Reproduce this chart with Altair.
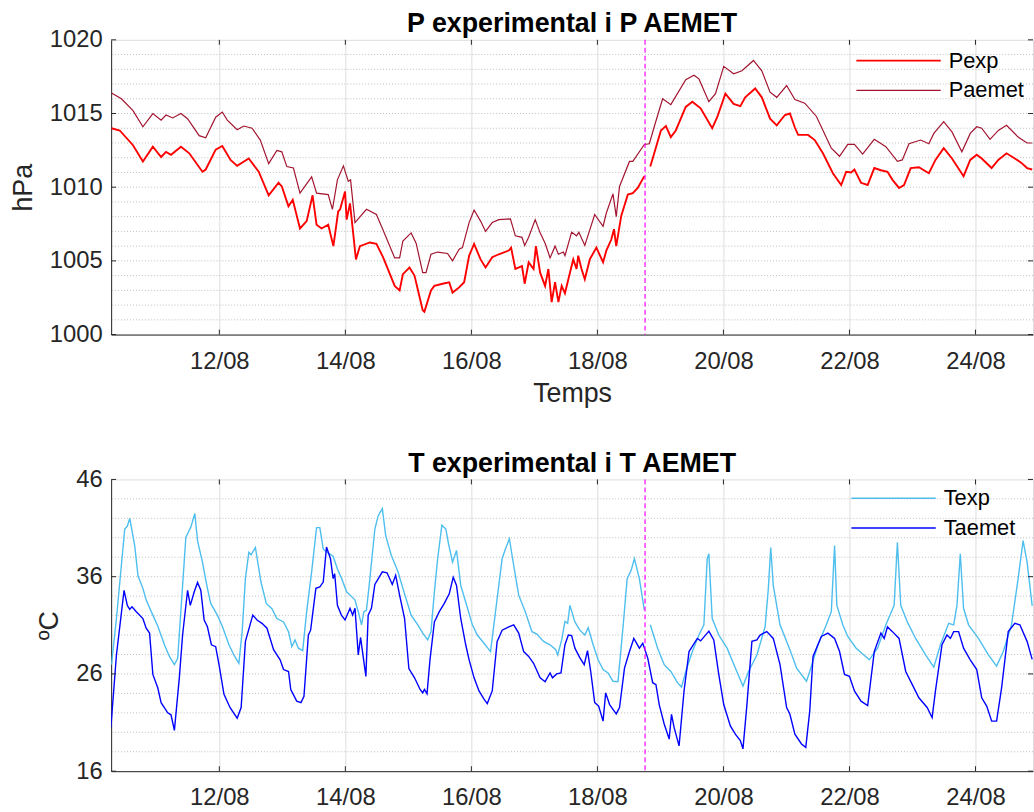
import altair as alt
import pandas as pd

BASE = pd.Timestamp("2021-08-10 00:00:00")

# ---- Pressure (time in days since 10/08 00:00) ----
paemet_t = [0.288, 0.446, 0.63, 0.787, 0.945, 1.076, 1.154, 1.26, 1.391, 1.496, 1.68, 1.784, 1.942, 2.047,
            2.126, 2.283, 2.389, 2.52, 2.65, 2.783, 2.913, 2.992, 3.071, 3.176, 3.28, 3.465, 3.543, 3.728,
            3.795, 3.874, 3.969, 4.047, 4.083, 4.153, 4.335, 4.493, 4.598, 4.783, 4.861, 4.913, 5.044, 5.123,
            5.228, 5.28, 5.359, 5.465, 5.622, 5.701, 5.806, 5.858, 5.964, 6.043, 6.146, 6.225, 6.331, 6.436,
            6.619, 6.698, 6.803, 6.846, 6.909, 7.013, 7.091, 7.17, 7.249, 7.328, 7.381, 7.46, 7.485, 7.591,
            7.669, 7.706, 7.8, 7.957, 8.09, 8.142, 8.247, 8.299, 8.351, 8.509, 8.562, 8.745, 8.824, 8.902,
            9.035, 9.165, 9.402, 9.532, 9.611, 9.769, 9.874, 10.005, 10.162, 10.294, 10.477, 10.609, 10.74,
            10.846, 11.003, 11.134, 11.291, 11.476, 11.712, 11.843, 11.973, 12.079, 12.209, 12.394, 12.578,
            12.761, 12.839, 12.945, 13.129, 13.26, 13.339, 13.496, 13.627, 13.784, 13.917, 14.02, 14.099,
            14.231, 14.362, 14.493, 14.677, 14.729, 14.819, 14.9]
paemet_v = [1016.4, 1016.0, 1015.2, 1014.1, 1015.0, 1014.55, 1014.9, 1014.7, 1015.0, 1014.65, 1013.5, 1013.35,
            1014.75, 1015.1, 1014.55, 1013.9, 1014.15, 1014.0, 1013.2, 1011.6, 1012.5, 1012.4, 1011.4, 1011.3,
            1009.6, 1010.7, 1009.6, 1009.5, 1008.5, 1010.5, 1011.45, 1010.4, 1010.5, 1007.6, 1008.5, 1008.15,
            1007.1, 1005.2, 1005.2, 1006.35, 1006.9, 1006.2, 1004.2, 1004.2, 1005.45, 1005.6, 1005.5, 1005.0,
            1005.8, 1005.9, 1007.6, 1008.45, 1007.7, 1007.0, 1007.6, 1007.8, 1007.85, 1006.7, 1006.6, 1006.05,
            1006.6, 1007.8, 1006.9, 1006.2, 1005.2, 1006.0, 1005.45, 1005.6, 1005.35, 1006.95, 1006.7, 1006.95,
            1006.05, 1008.15, 1007.35, 1008.25, 1009.55, 1008.0, 1010.05, 1011.75, 1011.75, 1012.9, 1012.95,
            1014.1, 1016.0, 1015.6, 1017.3, 1017.6, 1017.35, 1015.8, 1016.35, 1018.2, 1017.7, 1017.9, 1018.6,
            1017.9, 1016.45, 1016.1, 1016.9, 1015.95, 1015.7, 1014.8, 1012.65, 1012.1, 1012.9, 1012.9, 1012.25,
            1013.25, 1012.75, 1011.75, 1011.85, 1012.95, 1013.2, 1012.95, 1013.65, 1014.45, 1013.75, 1012.4,
            1013.65, 1014.1, 1014.0, 1013.25, 1013.85, 1014.2, 1013.4, 1013.25, 1013.0, 1013.0]

pexp_t = [0.288, 0.42, 0.63, 0.787, 0.945, 1.076, 1.154, 1.233, 1.391, 1.523, 1.732, 1.784, 1.942, 2.047,
          2.178, 2.283, 2.467, 2.625, 2.783, 2.94, 2.992, 3.097, 3.165, 3.28, 3.386, 3.48, 3.543, 3.622,
          3.728, 3.81, 3.886, 3.917, 3.995, 4.02, 4.074, 4.168, 4.231, 4.389, 4.493, 4.598, 4.783, 4.861,
          4.913, 5.018, 5.097, 5.228, 5.254, 5.359, 5.412, 5.543, 5.648, 5.701, 5.806, 5.885, 5.964, 6.043,
          6.146, 6.225, 6.331, 6.436, 6.593, 6.63, 6.698, 6.803, 6.846, 6.909, 6.987, 7.024, 7.091, 7.17,
          7.222, 7.274, 7.328, 7.381, 7.433, 7.485, 7.564, 7.617, 7.669, 7.696, 7.748, 7.8, 7.879, 7.984,
          8.09, 8.142, 8.22, 8.263, 8.299, 8.378, 8.483, 8.562, 8.64, 8.745,
          8.839, 8.902, 9.008, 9.087, 9.165, 9.244, 9.402, 9.507, 9.638, 9.822, 9.901, 10.031, 10.162,
          10.268, 10.346, 10.504, 10.609, 10.74, 10.846, 10.976, 11.055, 11.134, 11.186, 11.343, 11.449,
          11.579, 11.737, 11.869, 11.948, 12.026, 12.079, 12.184, 12.289, 12.394, 12.499, 12.604, 12.683,
          12.787, 12.866, 12.972, 13.102, 13.26, 13.365, 13.496, 13.627, 13.811, 13.917, 14.02, 14.099,
          14.256, 14.362, 14.493, 14.625, 14.729, 14.819, 14.9]
pexp_v = [1014.0, 1013.85, 1012.85, 1011.75, 1012.75, 1012.05, 1012.4, 1012.2, 1012.75, 1012.3, 1011.05,
          1011.2, 1012.55, 1012.8, 1011.85, 1011.45, 1011.95, 1011.05, 1009.45, 1010.3, 1010.05, 1008.7,
          1009.15, 1007.2, 1007.7, 1009.45, 1007.45, 1007.2, 1007.45, 1006.0, 1008.35, 1008.5, 1009.7,
          1007.8, 1008.9, 1005.1, 1006.0, 1006.25, 1006.15, 1005.25, 1003.3, 1003.0, 1004.1, 1004.55, 1004.0,
          1001.65, 1001.55, 1003.0, 1003.3, 1003.45, 1003.55, 1002.85, 1003.2, 1003.55, 1005.35, 1006.15,
          1005.1, 1004.55, 1005.25, 1005.45, 1005.7, 1005.9, 1004.45, 1004.65, 1003.45, 1004.9, 1004.45,
          1006.0, 1004.2, 1003.3, 1004.45, 1002.2, 1003.55, 1002.2, 1003.3, 1002.8, 1004.2, 1005.1, 1004.45,
          1005.35, 1004.45, 1003.75, 1005.1, 1005.9, 1004.9, 1005.7, 1006.45, 1007.15, 1006.0, 1008.05,
          1009.5, 1009.6, 1009.95, 1010.75,
          1011.4, 1012.3, 1013.85, 1014.15, 1013.4, 1013.85, 1015.45, 1015.8, 1015.35, 1014.0, 1014.75,
          1016.35, 1015.65, 1015.5, 1016.1, 1016.7, 1016.1, 1014.65, 1014.2, 1014.9, 1015.0, 1014.05,
          1013.55, 1013.55, 1013.2, 1012.3, 1010.95, 1010.15, 1011.05, 1011.0, 1011.2, 1010.3, 1010.15,
          1011.3, 1011.15, 1011.05, 1010.5, 1009.95, 1010.15, 1011.3, 1011.35, 1010.95, 1011.85, 1012.65,
          1011.95, 1010.75, 1011.85, 1012.2, 1011.95, 1011.3, 1011.85, 1012.3, 1011.95, 1011.65, 1011.3,
          1011.2]

# ---- Temperature ----
texp_t = [0.288, 0.367, 0.499, 0.54, 0.578, 0.657, 0.709, 0.787, 0.839, 0.945, 1.024, 1.129, 1.208, 1.287,
          1.339, 1.417, 1.469, 1.548, 1.611, 1.654, 1.732, 1.811, 1.863, 1.969, 2.047, 2.153, 2.231, 2.31,
          2.362, 2.414, 2.468, 2.504, 2.572, 2.661, 2.745, 2.835, 2.913, 3.019, 3.098, 3.15, 3.202, 3.255,
          3.323, 3.386, 3.465, 3.543, 3.595, 3.649, 3.712, 3.806, 3.874, 3.942, 4.02, 4.099, 4.153, 4.205,
          4.257, 4.294, 4.335, 4.389, 4.468, 4.52, 4.587, 4.641, 4.729, 4.835, 4.913, 5.044, 5.15, 5.228,
          5.307, 5.359, 5.413, 5.465, 5.532, 5.595, 5.638, 5.701, 5.764, 5.831, 5.91, 6.016, 6.094, 6.2,
          6.304, 6.383, 6.488, 6.54, 6.603, 6.672, 6.751, 6.855, 6.961, 7.039, 7.145, 7.249, 7.339, 7.37,
          7.433, 7.485, 7.528, 7.564, 7.643, 7.722, 7.8, 7.854, 7.932, 8.011, 8.09, 8.169, 8.247, 8.326,
          8.405, 8.472, 8.535, 8.587, 8.666, 8.745,
          8.839, 8.956, 9.06, 9.165, 9.271, 9.335, 9.402, 9.507, 9.611, 9.69, 9.743, 9.769, 9.822, 9.926,
          10.058, 10.189, 10.31, 10.398, 10.531, 10.661, 10.713, 10.751, 10.791, 10.898, 11.055, 11.161,
          11.318, 11.37, 11.501, 11.633, 11.712, 11.764, 11.8, 11.894, 11.973, 12.106, 12.315, 12.446,
          12.578, 12.709, 12.761, 12.814, 12.918, 13.05, 13.208, 13.339, 13.444, 13.575, 13.654, 13.706,
          13.759, 13.811, 13.89, 14.047, 14.205, 14.335, 14.441, 14.572, 14.677, 14.756, 14.819, 14.9]
texp_v = [26.95, 31.7, 40.9, 41.2, 42.0, 39.2, 36.1, 34.8, 33.6, 32.05, 30.9, 29.0, 27.8, 26.95, 27.6, 35.1,
          40.05, 41.1, 42.5, 39.7, 37.5, 34.8, 33.25, 32.05, 30.9, 29.0, 27.95, 27.1, 30.35, 35.8, 38.5, 38.25,
          39.0, 35.45, 33.25, 32.7, 31.7, 31.35, 30.35, 28.8, 29.5, 28.65, 28.4, 32.4, 36.5, 41.05, 41.05,
          38.85, 38.5, 38.1, 36.8, 35.8, 34.45, 33.95, 33.6, 32.4, 31.05, 32.4, 32.55, 35.8, 40.9, 42.25, 43.0,
          40.2, 38.2, 36.5, 34.8, 32.05, 31.05, 30.2, 29.5, 30.35, 34.45, 37.85, 41.3, 40.9, 39.35, 37.5,
          38.7, 35.1, 33.4, 31.05, 30.0, 29.15, 28.3, 32.4, 37.85, 38.85, 39.9, 37.15, 34.1, 32.4, 30.35,
          30.1, 29.35, 29.0, 28.5, 27.95, 29.5, 31.4, 31.2, 33.05, 31.35, 30.5, 30.0, 30.75, 29.0, 27.45,
          26.45, 26.1, 25.25, 25.2, 30.7, 35.8, 36.65, 37.85, 35.8, 32.55,
          31.05, 28.65, 26.95, 26.25, 25.1, 24.65, 26.25, 28.3, 30.0, 31.05, 37.85, 38.35, 31.7, 30.0, 28.65,
          26.6, 24.75, 26.25, 27.95, 30.85, 34.8, 39.0, 35.1, 31.05, 28.5, 26.6, 25.25, 26.25, 29.0, 31.05,
          32.4, 39.2, 33.05, 31.05, 29.85, 28.65, 27.45, 28.65, 31.05, 33.05, 39.55, 33.05, 31.35, 29.65,
          27.95, 26.7, 29.0, 31.2, 31.05, 33.05, 38.35, 32.75, 31.05, 29.65, 27.95, 26.8, 28.3, 31.05, 35.8,
          39.7, 37.5, 33.0]

taemet_t = [0.279, 0.367, 0.488, 0.54, 0.578, 0.614, 0.682, 0.787, 0.839, 0.893, 0.945, 1.024, 1.076, 1.181,
            1.233, 1.287, 1.365, 1.417, 1.496, 1.539, 1.602, 1.654, 1.706, 1.759, 1.811, 1.874, 1.942, 1.995,
            2.074, 2.169, 2.283, 2.346, 2.414, 2.531, 2.598, 2.677, 2.756, 2.861, 2.965, 3.019, 3.098, 3.134,
            3.228, 3.296, 3.343, 3.413, 3.449, 3.532, 3.595, 3.649, 3.701, 3.764, 3.806, 3.831, 3.874, 3.937,
            3.995, 4.074, 4.115, 4.153, 4.205, 4.241, 4.326, 4.362, 4.414, 4.468, 4.587, 4.661, 4.745, 4.798,
            4.861, 4.94, 5.008, 5.098, 5.186, 5.228, 5.255, 5.296, 5.343, 5.413, 5.491, 5.57, 5.649, 5.712,
            5.764, 5.831, 5.91, 5.964, 6.043, 6.121, 6.2, 6.252, 6.331, 6.409, 6.488, 6.594, 6.672, 6.751,
            6.83, 6.909, 6.987, 7.091, 7.17, 7.249, 7.287, 7.354, 7.422, 7.485, 7.539, 7.591, 7.643, 7.722,
            7.791, 7.843, 7.894, 7.957, 8.02, 8.09, 8.131, 8.194, 8.299, 8.351, 8.43, 8.509, 8.578, 8.666,
            8.72, 8.798, 8.877, 8.929, 8.981, 9.06, 9.139, 9.176, 9.217, 9.296, 9.375, 9.454, 9.586, 9.638,
            9.769, 9.847, 9.926, 10.005, 10.11, 10.189, 10.268, 10.31, 10.373, 10.452, 10.531, 10.583, 10.688,
            10.791, 10.898, 11.003, 11.055, 11.134, 11.239, 11.307, 11.37, 11.422, 11.554, 11.658, 11.764,
            11.843, 11.921, 12.0, 12.079, 12.184, 12.289, 12.394, 12.499, 12.551, 12.603, 12.682, 12.787,
            12.893, 12.997, 13.102, 13.233, 13.312, 13.365, 13.469, 13.548, 13.602, 13.654, 13.732, 13.811,
            13.917, 14.02, 14.099, 14.178, 14.257, 14.335, 14.414, 14.52, 14.625, 14.704, 14.819, 14.9]
taemet_v = [20.5, 27.95, 34.6, 33.05, 32.65, 32.9, 32.4, 31.7, 30.7, 30.2, 25.95, 24.55, 23.05, 22.0, 21.8,
            20.2, 25.6, 30.0, 34.6, 33.05, 34.45, 35.4, 34.6, 31.55, 30.85, 29.0, 28.8, 26.95, 23.9, 22.55,
            21.45, 22.55, 29.35, 32.05, 31.55, 31.2, 30.7, 28.5, 27.45, 26.45, 26.25, 24.4, 23.2, 23.05, 23.7,
            30.0, 30.5, 34.8, 34.95, 35.45, 39.05, 37.85, 35.8, 36.3, 33.05, 32.05, 31.55, 32.75, 32.05, 32.75,
            27.95, 29.75, 25.75, 32.05, 32.75, 35.2, 36.5, 36.4, 35.2, 36.15, 34.1, 31.7, 26.55, 25.6, 24.4,
            24.05, 24.4, 23.95, 27.45, 31.35, 32.4, 33.25, 34.25, 35.95, 35.1, 31.7, 29.0, 27.45, 25.6, 24.25,
            23.4, 22.95, 24.25, 29.35, 30.5, 30.85, 31.05, 30.2, 28.3, 27.8, 27.1, 25.6, 25.2, 26.1, 25.6, 26.0,
            26.1, 29.0, 30.0, 29.95, 28.65, 27.65, 26.95, 28.4, 26.25, 23.05, 22.7, 21.15, 24.05, 22.85, 21.9,
            22.55, 26.6, 28.3, 29.65, 28.65, 29.15, 27.65, 25.1, 24.9, 22.85, 20.85, 19.3, 21.85, 20.5, 18.6,
            24.25, 28.3, 29.65, 29.4, 30.4, 29.5, 25.95, 22.85, 20.65, 19.8, 19.15, 18.3, 22.85, 29.35, 29.5,
            30.0, 30.35, 29.65, 26.95, 22.55, 21.85, 19.8, 18.8, 18.45, 22.2, 27.8, 29.85, 30.2, 29.65, 28.3,
            25.95, 25.75, 24.25, 23.2, 22.75, 28.3, 30.2, 29.65, 30.85, 30.35, 29.65, 26.25, 24.9, 23.55,
            22.55, 21.5, 24.25, 29.0, 30.0, 29.65, 30.35, 30.35, 28.65, 27.45, 26.45, 23.55, 22.7, 21.15,
            21.15, 24.55, 30.35, 31.2, 31.05, 29.35, 27.5]

vline_t = 8.756                     # dashed magenta marker
gap_t = 8.79                        # experimental series break
x_tick_days = [12, 14, 16, 18, 20, 22, 24]
x_domain_days = [0.283, 14.913]
p_ticks = [1000, 1005, 1010, 1015, 1020]
p_minor = list(range(1001, 1020))
t_ticks = [16, 26, 36, 46]
t_minor = list(range(18, 46, 2))

C_PEXP, C_PAEMET = "#FF0000", "#A2142F"
C_TEXP, C_TAEMET = "#4DBEEE", "#0000FF"
FONT = "Liberation Sans"
W = 929
AX = "#262626"


def to_time(days):
    return BASE + pd.to_timedelta(days, unit="D")


def dt(days):
    ts = to_time(days)
    return alt.DateTime(year=ts.year, month=ts.month, date=ts.day, hours=ts.hour,
                        minutes=ts.minute, seconds=ts.second)


def long_df(series):
    frames = []
    for name, ts, vs, split in series:
        d = pd.DataFrame({"time": to_time(pd.Series(ts)), "val": vs})
        d["series"] = name
        if split:
            d["seg"] = [name + ("a" if t < gap_t else "b") for t in ts]
        else:
            d["seg"] = name
        frames.append(d)
    return pd.concat(frames, ignore_index=True)


xdom = [dt(d) for d in x_domain_days]
xvals = [alt.DateTime(year=2021, month=8, date=d) for d in x_tick_days]
tick_df = pd.DataFrame({"time": [to_time(float(d - 10)) for d in x_tick_days]})


def panel(df, names, colors, ydom, yticks, yminor, ytitle, xtitle, H, title, leg_pos, widths):
    xscale = alt.Scale(domain=xdom)
    yscale = alt.Scale(domain=ydom, nice=False, zero=False)
    xaxis = alt.Axis(values=xvals, format="%d/%m", grid=True, gridColor="#DEDEDE", gridWidth=1,
                     ticks=False, domain=True, domainColor=AX, labelFontSize=24, labelColor=AX,
                     labelPadding=15, labelFont=FONT, title=xtitle, titleFont=FONT, titleFontSize=27,
                     titleFontWeight="normal", titleColor=AX, titlePadding=7)
    yaxis = alt.Axis(values=yticks, format="d", grid=False, ticks=False, domain=True, domainColor=AX,
                     labelFontSize=24, labelColor=AX, labelPadding=9, labelFont=FONT, title=ytitle,
                     titleFont=FONT, titleFontSize=27, titleFontWeight="normal", titleColor=AX,
                     titlePadding=12)

    base = alt.Chart(df).encode(
        x=alt.X("time:T", scale=xscale, axis=xaxis),
        y=alt.Y("val:Q", scale=yscale, axis=yaxis),
    )
    grid = alt.Chart(pd.DataFrame({"g": yminor})).mark_rule(
        color="#BDBDBD", strokeDash=[1, 2], strokeWidth=1).encode(y=alt.Y("g:Q", scale=yscale))
    vline = alt.Chart(pd.DataFrame({"time": [to_time(vline_t)]})).mark_rule(
        color="#FF00FF", strokeDash=[5, 3], strokeWidth=1.2).encode(x=alt.X("time:T", scale=xscale))

    lines = []
    for name, col, sw in zip(names, colors, widths):
        lines.append(
            base.transform_filter(alt.datum.series == name).mark_line(
                color=col, strokeWidth=sw, clip=True).encode(detail="seg:N")
        )

    # inward ticks (MATLAB style)
    xt_top = alt.Chart(tick_df).mark_rule(color=AX).encode(
        x=alt.X("time:T", scale=xscale), y=alt.value(0), y2=alt.value(5))
    xt_bot = alt.Chart(tick_df).mark_rule(color=AX).encode(
        x=alt.X("time:T", scale=xscale), y=alt.value(H - 5), y2=alt.value(H))
    ytdf = pd.DataFrame({"v": yticks})
    yt_l = alt.Chart(ytdf).mark_rule(color=AX).encode(
        y=alt.Y("v:Q", scale=yscale), x=alt.value(0), x2=alt.value(5))
    yt_r = alt.Chart(ytdf).mark_rule(color=AX).encode(
        y=alt.Y("v:Q", scale=yscale), x=alt.value(W - 5), x2=alt.value(W))

    # legend (no box)
    lx0, lx1, ltx, ly0, ldy = leg_pos
    leg = []
    for i, (name, col, sw) in enumerate(zip(names, colors, widths)):
        one = pd.DataFrame({"label": [name]})
        leg.append(alt.Chart(one).mark_rule(color=col, strokeWidth=sw).encode(
            x=alt.value(lx0), x2=alt.value(lx1), y=alt.value(ly0 + i * ldy)))
        leg.append(alt.Chart(one).mark_text(align="left", baseline="middle", font=FONT, fontSize=22,
                                            color="black").encode(
            x=alt.value(ltx), y=alt.value(ly0 + i * ldy), text="label:N"))

    # panel title as a text mark above the plot
    ttl = alt.Chart(pd.DataFrame({"t": [title]})).mark_text(
        align="center", baseline="alphabetic", font=FONT, fontSize=27, fontWeight="bold",
        color="black").encode(x=alt.value(W / 2), y=alt.value(-8), text="t:N")

    return alt.layer(grid, *lines, vline, xt_top, xt_bot, yt_l, yt_r, *leg, ttl).properties(
        width=W, height=H)


dfP = long_df([("Pexp", pexp_t, pexp_v, True), ("Paemet", paemet_t, paemet_v, False)])
dfT = long_df([("Texp", texp_t, texp_v, True), ("Taemet", taemet_t, taemet_v, False)])

top = panel(dfP, ["Pexp", "Paemet"], [C_PEXP, C_PAEMET], [1000, 1020], p_ticks, p_minor, "hPa", "Temps",
            297, "P experimental i P AEMET", (751, 836, 844, 21, 30), [1.9, 1.2])
bot = panel(dfT, ["Texp", "Taemet"], [C_TEXP, C_TAEMET], [16, 46], t_ticks, t_minor, "ºC", None,
            294, "T experimental i T AEMET", (746, 831, 839, 19, 30), [1.4, 1.4])

chart = alt.vconcat(top, bot, spacing=42).properties(
    padding={"left": 9, "top": 6, "right": 0, "bottom": 0}
).configure_view(stroke=AX, strokeWidth=1).configure(font=FONT, background="white")

chart.save("out.html", embed_options={"renderer": "svg", "actions": False})
